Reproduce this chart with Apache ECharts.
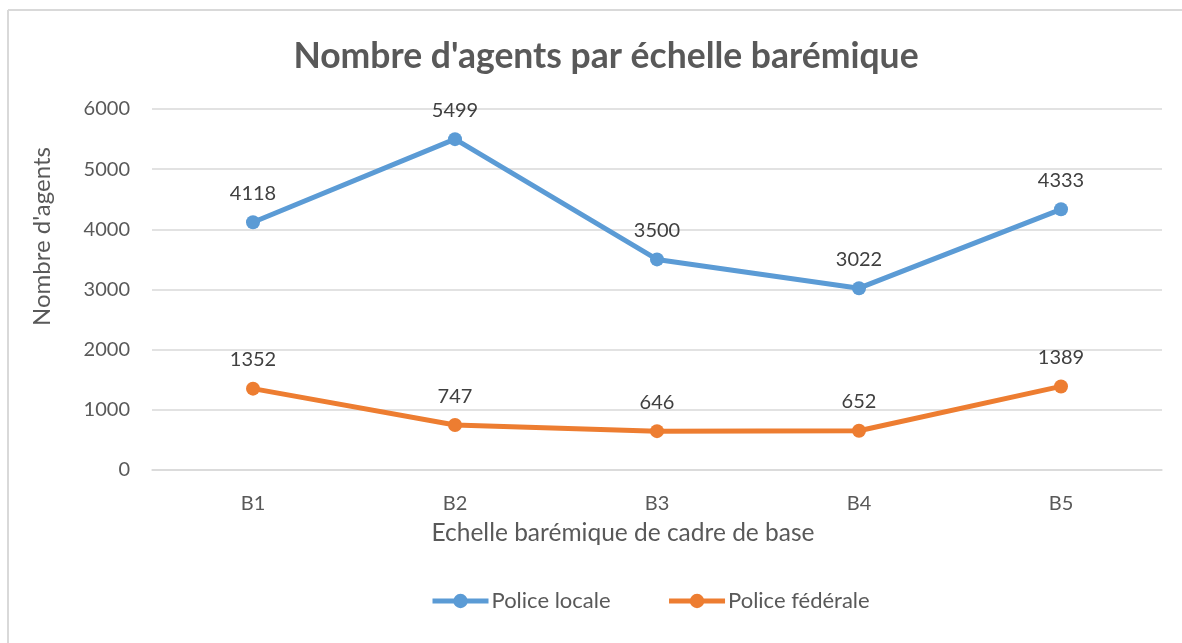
<!DOCTYPE html>
<html>
<head>
<meta charset="utf-8">
<script src="https://cdn.jsdelivr.net/npm/echarts@6/dist/echarts.min.js"></script>
<style>
html,body{margin:0;padding:0;background:#fff;}
#main{width:1182px;height:643px;}
</style>
</head>
<body>
<div id="main"></div>
<script>
var categories = ['B1', 'B2', 'B3', 'B4', 'B5'];
var policeLocale = [4118, 5499, 3500, 3022, 4333];
var policeFederale = [1352, 747, 646, 652, 1389];
var seriesNames = ['Police locale', 'Police fédérale'];
var yTicks = { min: 0, max: 6000, interval: 1000 };

var font = 'Lato, "Open Sans", sans-serif';
var chart = echarts.init(document.getElementById('main'), null, { renderer: 'canvas' });
var labelStyle = { show: true, position: 'top', distance: 12, fontFamily: font, fontSize: 20, color: '#404040' };
chart.setOption({
  animation: false,
  backgroundColor: '#ffffff',
  title: {
    text: "Nombre d'agents par échelle barémique",
    left: 601, top: 34, textAlign: 'center',
    textStyle: { fontFamily: font, fontWeight: 'bold', fontSize: 35.5, color: '#595959' }
  },
  graphic: [
    { type: 'line', shape: { x1: 8, y1: 10, x2: 1182, y2: 10 }, style: { stroke: '#d9d9d9', lineWidth: 2 } },
    { type: 'line', shape: { x1: 8, y1: 10, x2: 8, y2: 643 }, style: { stroke: '#d9d9d9', lineWidth: 2 } }
  ],
  legend: {
    bottom: 26, left: 425,
    itemWidth: 56, itemHeight: 18, itemGap: 56,
    lineStyle: { width: 5 },
    textStyle: { fontFamily: font, fontSize: 22, color: '#595959', padding: [0, 0, 0, -2] },
    data: seriesNames
  },
  grid: { left: 152, right: 20, top: 109, bottom: 173 },
  xAxis: {
    type: 'category', data: categories,
    boundaryGap: true,
    axisLine: { show: true, lineStyle: { color: '#d9d9d9', width: 1.5 } },
    axisTick: { show: false },
    axisLabel: { fontFamily: font, fontSize: 20, color: '#595959', margin: 24 },
    name: 'Echelle barémique de cadre de base',
    nameLocation: 'middle', nameGap: 51,
    nameTextStyle: { fontFamily: font, fontSize: 24.5, color: '#595959', padding: [0, 68, 0, 0] }
  },
  yAxis: {
    type: 'value', min: yTicks.min, max: yTicks.max, interval: yTicks.interval,
    axisLine: { show: false }, axisTick: { show: false },
    splitLine: { lineStyle: { color: '#d9d9d9', width: 1.5 } },
    axisLabel: { fontFamily: font, fontSize: 20, color: '#595959', margin: 22, formatter: function (v) { return String(v); } },
    name: "Nombre d'agents",
    nameLocation: 'middle', nameGap: 98, nameRotate: 90,
    nameTextStyle: { fontFamily: font, fontSize: 24, color: '#595959', padding: [0, 0, 0, 106] }
  },
  series: [
    {
      name: seriesNames[0], type: 'line', data: policeLocale,
      symbol: 'circle', symbolSize: 14,
      lineStyle: { color: '#5b9bd5', width: 5 },
      itemStyle: { color: '#5b9bd5' },
      label: labelStyle
    },
    {
      name: seriesNames[1], type: 'line', data: policeFederale,
      symbol: 'circle', symbolSize: 14,
      lineStyle: { color: '#ed7d31', width: 5 },
      itemStyle: { color: '#ed7d31' },
      label: labelStyle
    }
  ]
});
</script>
</body>
</html>
